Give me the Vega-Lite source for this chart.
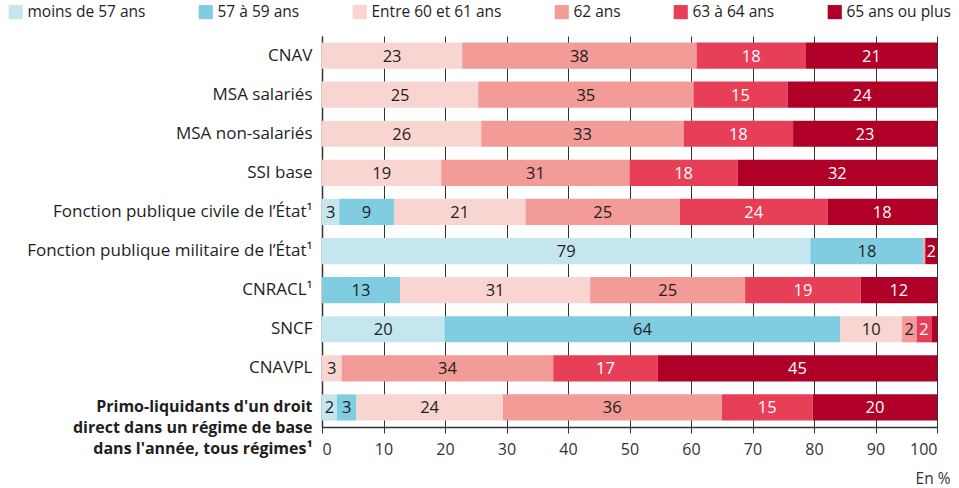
{
  "$schema": "https://vega.github.io/schema/vega-lite/v6.json",
  "autosize": {"type": "none"},
  "width": 615,
  "height": 391,
  "padding": {"left": 322, "top": 36, "right": 22, "bottom": 61},
  "config": {
    "view": {"stroke": null},
    "font": "Open Sans",
    "axis": {"labelFont": "Open Sans", "titleFont": "Open Sans"},
    "legend": {"labelFont": "Open Sans"}
  },
  "data": {"values": [
    {"regime": "CNAV", "age": "Entre 60 et 61 ans", "k": 3, "v": 22.8},
    {"regime": "CNAV", "age": "62 ans", "k": 4, "v": 38.1},
    {"regime": "CNAV", "age": "63 à 64 ans", "k": 5, "v": 17.8},
    {"regime": "CNAV", "age": "65 ans ou plus", "k": 6, "v": 21.3},
    {"regime": "MSA salariés", "age": "Entre 60 et 61 ans", "k": 3, "v": 25.4},
    {"regime": "MSA salariés", "age": "62 ans", "k": 4, "v": 35.0},
    {"regime": "MSA salariés", "age": "63 à 64 ans", "k": 5, "v": 15.3},
    {"regime": "MSA salariés", "age": "65 ans ou plus", "k": 6, "v": 24.3},
    {"regime": "MSA non-salariés", "age": "Entre 60 et 61 ans", "k": 3, "v": 25.9},
    {"regime": "MSA non-salariés", "age": "62 ans", "k": 4, "v": 32.9},
    {"regime": "MSA non-salariés", "age": "63 à 64 ans", "k": 5, "v": 17.8},
    {"regime": "MSA non-salariés", "age": "65 ans ou plus", "k": 6, "v": 23.4},
    {"regime": "SSI base", "age": "Entre 60 et 61 ans", "k": 3, "v": 19.4},
    {"regime": "SSI base", "age": "62 ans", "k": 4, "v": 30.6},
    {"regime": "SSI base", "age": "63 à 64 ans", "k": 5, "v": 17.6},
    {"regime": "SSI base", "age": "65 ans ou plus", "k": 6, "v": 32.4},
    {"regime": "Fonction publique civile de l’État¹", "age": "moins de 57 ans", "k": 1, "v": 2.8},
    {"regime": "Fonction publique civile de l’État¹", "age": "57 à 59 ans", "k": 2, "v": 8.9},
    {"regime": "Fonction publique civile de l’État¹", "age": "Entre 60 et 61 ans", "k": 3, "v": 21.4},
    {"regime": "Fonction publique civile de l’État¹", "age": "62 ans", "k": 4, "v": 25.1},
    {"regime": "Fonction publique civile de l’État¹", "age": "63 à 64 ans", "k": 5, "v": 24.0},
    {"regime": "Fonction publique civile de l’État¹", "age": "65 ans ou plus", "k": 6, "v": 17.8},
    {"regime": "Fonction publique militaire de l’État¹", "age": "moins de 57 ans", "k": 1, "v": 79.4},
    {"regime": "Fonction publique militaire de l’État¹", "age": "57 à 59 ans", "k": 2, "v": 18.4},
    {"regime": "Fonction publique militaire de l’État¹", "age": "62 ans", "k": 4, "v": 0.3},
    {"regime": "Fonction publique militaire de l’État¹", "age": "65 ans ou plus", "k": 6, "v": 1.9},
    {"regime": "CNRACL¹", "age": "57 à 59 ans", "k": 2, "v": 12.7},
    {"regime": "CNRACL¹", "age": "Entre 60 et 61 ans", "k": 3, "v": 30.9},
    {"regime": "CNRACL¹", "age": "62 ans", "k": 4, "v": 25.2},
    {"regime": "CNRACL¹", "age": "63 à 64 ans", "k": 5, "v": 18.8},
    {"regime": "CNRACL¹", "age": "65 ans ou plus", "k": 6, "v": 12.4},
    {"regime": "SNCF", "age": "moins de 57 ans", "k": 1, "v": 19.9},
    {"regime": "SNCF", "age": "57 à 59 ans", "k": 2, "v": 64.4},
    {"regime": "SNCF", "age": "Entre 60 et 61 ans", "k": 3, "v": 10.0},
    {"regime": "SNCF", "age": "62 ans", "k": 4, "v": 2.4},
    {"regime": "SNCF", "age": "63 à 64 ans", "k": 5, "v": 2.4},
    {"regime": "SNCF", "age": "65 ans ou plus", "k": 6, "v": 0.9},
    {"regime": "CNAVPL", "age": "Entre 60 et 61 ans", "k": 3, "v": 3.2},
    {"regime": "CNAVPL", "age": "62 ans", "k": 4, "v": 34.4},
    {"regime": "CNAVPL", "age": "63 à 64 ans", "k": 5, "v": 17.0},
    {"regime": "CNAVPL", "age": "65 ans ou plus", "k": 6, "v": 45.4},
    {"regime": "Primo-liquidants d'un droit|direct dans un régime de base|dans l'année, tous régimes¹", "age": "moins de 57 ans", "k": 1, "v": 2.4},
    {"regime": "Primo-liquidants d'un droit|direct dans un régime de base|dans l'année, tous régimes¹", "age": "57 à 59 ans", "k": 2, "v": 3.2},
    {"regime": "Primo-liquidants d'un droit|direct dans un régime de base|dans l'année, tous régimes¹", "age": "Entre 60 et 61 ans", "k": 3, "v": 23.8},
    {"regime": "Primo-liquidants d'un droit|direct dans un régime de base|dans l'année, tous régimes¹", "age": "62 ans", "k": 4, "v": 35.6},
    {"regime": "Primo-liquidants d'un droit|direct dans un régime de base|dans l'année, tous régimes¹", "age": "63 à 64 ans", "k": 5, "v": 14.8},
    {"regime": "Primo-liquidants d'un droit|direct dans un régime de base|dans l'année, tous régimes¹", "age": "65 ans ou plus", "k": 6, "v": 20.2}
  ]},
  "transform": [
    {"stack": "v", "groupby": ["regime"], "sort": [{"field": "k", "order": "ascending"}], "as": ["v0", "v1"]}
  ],
  "encoding": {
    "y": {
      "field": "regime", "type": "nominal",
      "sort": ["CNAV", "MSA salariés", "MSA non-salariés", "SSI base", "Fonction publique civile de l’État¹", "Fonction publique militaire de l’État¹", "CNRACL¹", "SNCF", "CNAVPL", "Primo-liquidants d'un droit|direct dans un régime de base|dans l'année, tous régimes¹"],
      "scale": {"paddingInner": 0.33, "paddingOuter": 0.165},
      "axis": {
        "title": null,
        "labelExpr": "split(datum.label, '|')",
        "labelFontSize": {"condition": {"test": "indexof(datum.label, 'Primo') >= 0", "value": 16}, "value": 17},
        "labelColor": "#1e1e1e",
        "labelLineHeight": 21,
        "labelPadding": 10,
        "labelFontWeight": {"condition": {"test": "indexof(datum.label, 'Primo') >= 0", "value": "bold"}, "value": "normal"},
        "ticks": false,
        "domainColor": "#333333",
        "domainWidth": 1.5,
        "labelLimit": 400
      }
    }
  },
  "layer": [
    {
      "mark": {"type": "bar"},
      "encoding": {
        "x": {
          "field": "v0", "type": "quantitative",
          "scale": {"domain": [0, 100], "nice": false},
          "axis": {
            "values": [0, 10, 20, 30, 40, 50, 60, 70, 80, 90, 100],
            "grid": true, "gridColor": "#333333", "gridWidth": 1,
            "domainColor": "#333333", "domainWidth": 1.5,
            "tickColor": "#333333", "tickSize": 6,
            "labelFontSize": 16, "labelColor": "#333333", "labelPadding": 8,
            "title": "En %", "titleFontSize": 15.5, "titleFontWeight": "normal", "titleColor": "#333333",
            "titleAlign": "right", "titleAnchor": "end", "titleX": 628, "titleY": 56, "titleBaseline": "alphabetic"
          }
        },
        "x2": {"field": "v1"},
        "color": {
          "field": "age", "type": "nominal",
          "scale": {
            "domain": ["moins de 57 ans", "57 à 59 ans", "Entre 60 et 61 ans", "62 ans", "63 à 64 ans", "65 ans ou plus"],
            "range": ["#c6e6ef", "#80cde1", "#f9d5d2", "#f29b97", "#e83f58", "#b00028"]
          },
          "legend": {
            "orient": "none", "direction": "horizontal", "legendX": -314, "legendY": -32,
            "title": null, "symbolType": "square", "symbolSize": 200, "symbolStrokeWidth": 0,
            "labelFontSize": 15.5, "labelColor": "#1e1e1e", "columnPadding": 52, "labelOffset": 4
          }
        }
      }
    },
    {
      "transform": [
        {"filter": "datum.v >= 1.5"},
        {"calculate": "(datum.v0 + datum.v1) / 2", "as": "vmid"}
      ],
      "mark": {"type": "text", "fontSize": 16.5, "baseline": "middle", "align": "center", "dy": 1},
      "encoding": {
        "x": {"field": "vmid", "type": "quantitative"},
        "text": {"field": "v", "type": "quantitative", "format": ".0f"},
        "color": {"condition": {"test": "datum.k >= 5", "value": "#ffffff"}, "value": "#1e1e1e"}
      }
    }
  ]
}
